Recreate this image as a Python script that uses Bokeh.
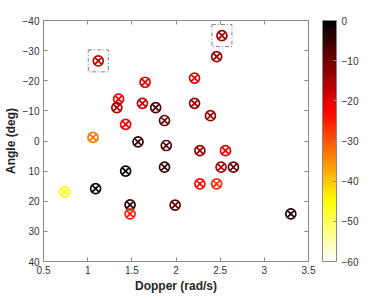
from bokeh.plotting import figure
from bokeh.models import (ColumnDataSource, LinearColorMapper, ColorBar, FixedTicker,
                          Range1d, LinearAxis, NumeralTickFormatter, AllLabels)
from bokeh.embed import file_html
from bokeh.resources import INLINE

doppler = [1.12, 2.52, 2.46, 1.65, 2.21, 1.35, 1.33, 1.62, 1.77, 2.21,
           1.87, 1.43, 2.39, 1.06, 1.57, 1.89, 2.27, 2.56, 2.51, 2.65,
           1.43, 1.87, 0.74, 1.09, 2.27, 2.46, 1.48, 1.48, 1.99, 3.30]
angle = [-26.6, -35.0, -28.0, -19.5, -20.9, -13.9, -11.1, -12.5, -11.1, -12.5,
         -6.8, -5.5, -8.4, -1.2, 0.3, 1.5, 3.2, 3.2, 8.7, 8.7,
         10.0, 8.7, 16.9, 15.8, 14.2, 14.2, 21.2, 24.2, 21.3, 24.2]
power = [-17, -15, -14, -20, -19, -21, -15, -17, -7, -13,
         -9, -22, -14, -33, -5, -7, -13, -21, -15, -9,
         -1, -5, -45, -1, -22, -26, -4, -25, -8, -3]
highlight = [0, 1]

x_ticks = [0.5, 1, 1.5, 2, 2.5, 3, 3.5]
y_ticks = [-40, -30, -20, -10, 0, 10, 20, 30, 40]
c_ticks = [-60, -50, -40, -30, -20, -10, 0]

# MATLAB 'hot' colormap, low value (-60) = white, 0 = black
def hot(t):
    r = min(1.0, t / 0.375)
    g = min(1.0, max(0.0, (t - 0.375) / 0.375))
    b = min(1.0, max(0.0, (t - 0.75) / 0.25))
    return "#%02x%02x%02x" % (int(round(r * 255)), int(round(g * 255)), int(round(b * 255)))

N = 256
palette = [hot(1 - i / (N - 1)) for i in range(N)]
mapper = LinearColorMapper(palette=palette, low=-60, high=0)

src = ColumnDataSource(dict(x=doppler, y=angle, c=power))
hsrc = ColumnDataSource(dict(x=[doppler[i] for i in highlight], y=[angle[i] for i in highlight]))

p = figure(frame_width=265, frame_height=241, output_backend="svg", toolbar_location=None,
           x_range=Range1d(0.5, 3.5), y_range=Range1d(40, -40),
           min_border_left=40, min_border_top=20, min_border_bottom=34, min_border_right=10)

p.xgrid.visible = False
p.ygrid.visible = False
p.outline_line_color = "#8a8a8a"
p.outline_line_width = 1

p.scatter("x", "y", source=src, marker="circle_x", size=10, line_width=1.7,
          fill_color=None, line_color={"field": "c", "transform": mapper})
p.rect("x", "y", source=hsrc, width=20, height=22, width_units="screen", height_units="screen",
       fill_color=None, line_color="#808080", line_width=1, line_dash="4 2 1 2")

font = "Liberation Sans"
for ax in (p.xaxis[0], p.yaxis[0]):
    ax.axis_line_color = "#8a8a8a"
    ax.major_tick_line_color = "#8a8a8a"
    ax.major_tick_in = 4
    ax.major_tick_out = 0
    ax.minor_tick_line_color = None
    ax.major_label_text_font = font
    ax.major_label_text_font_size = "10px"
    ax.major_label_text_color = "#333333"
    ax.axis_label_text_font = font
    ax.axis_label_text_font_size = "12px"
    ax.axis_label_text_font_style = "bold"
    ax.axis_label_text_color = "#262626"

p.xaxis[0].ticker = FixedTicker(ticks=x_ticks)
p.xaxis[0].formatter = NumeralTickFormatter(format="0.[0]")
p.yaxis[0].ticker = FixedTicker(ticks=y_ticks)
p.xaxis[0].axis_label = "Dopper (rad/s)"
p.yaxis[0].axis_label = "Angle (deg)"
p.xaxis[0].major_label_standoff = 4
p.yaxis[0].major_label_standoff = 4
p.xaxis[0].axis_label_standoff = 2
p.yaxis[0].axis_label_standoff = 2

top = LinearAxis(ticker=FixedTicker(ticks=x_ticks),
                 major_label_overrides={t: "" for t in x_ticks},
                 axis_line_color="#8a8a8a", major_tick_line_color="#8a8a8a",
                 major_tick_in=4, major_tick_out=0, minor_tick_line_color=None,
                 major_label_standoff=0)
p.add_layout(top, "above")
right = LinearAxis(ticker=FixedTicker(ticks=y_ticks),
                   major_label_overrides={t: "" for t in y_ticks},
                   axis_line_color="#8a8a8a", major_tick_line_color="#8a8a8a",
                   major_tick_in=4, major_tick_out=0, minor_tick_line_color=None,
                   major_label_standoff=0)
p.add_layout(right, "right")

cb = ColorBar(color_mapper=mapper, ticker=FixedTicker(ticks=c_ticks), width=14, height=241,
              padding=0, margin=0, location=(14, 0),
              major_label_policy=AllLabels(),
              major_label_text_font=font, major_label_text_font_size="10px",
              major_label_text_color="#333333",
              major_tick_line_color="#8a8a8a", major_tick_in=3, major_tick_out=0,
              bar_line_color="#8a8a8a", background_fill_color=None,
              border_line_color=None, label_standoff=5)
p.add_layout(cb, "right")

open("out.html", "w").write(file_html(p, INLINE))
